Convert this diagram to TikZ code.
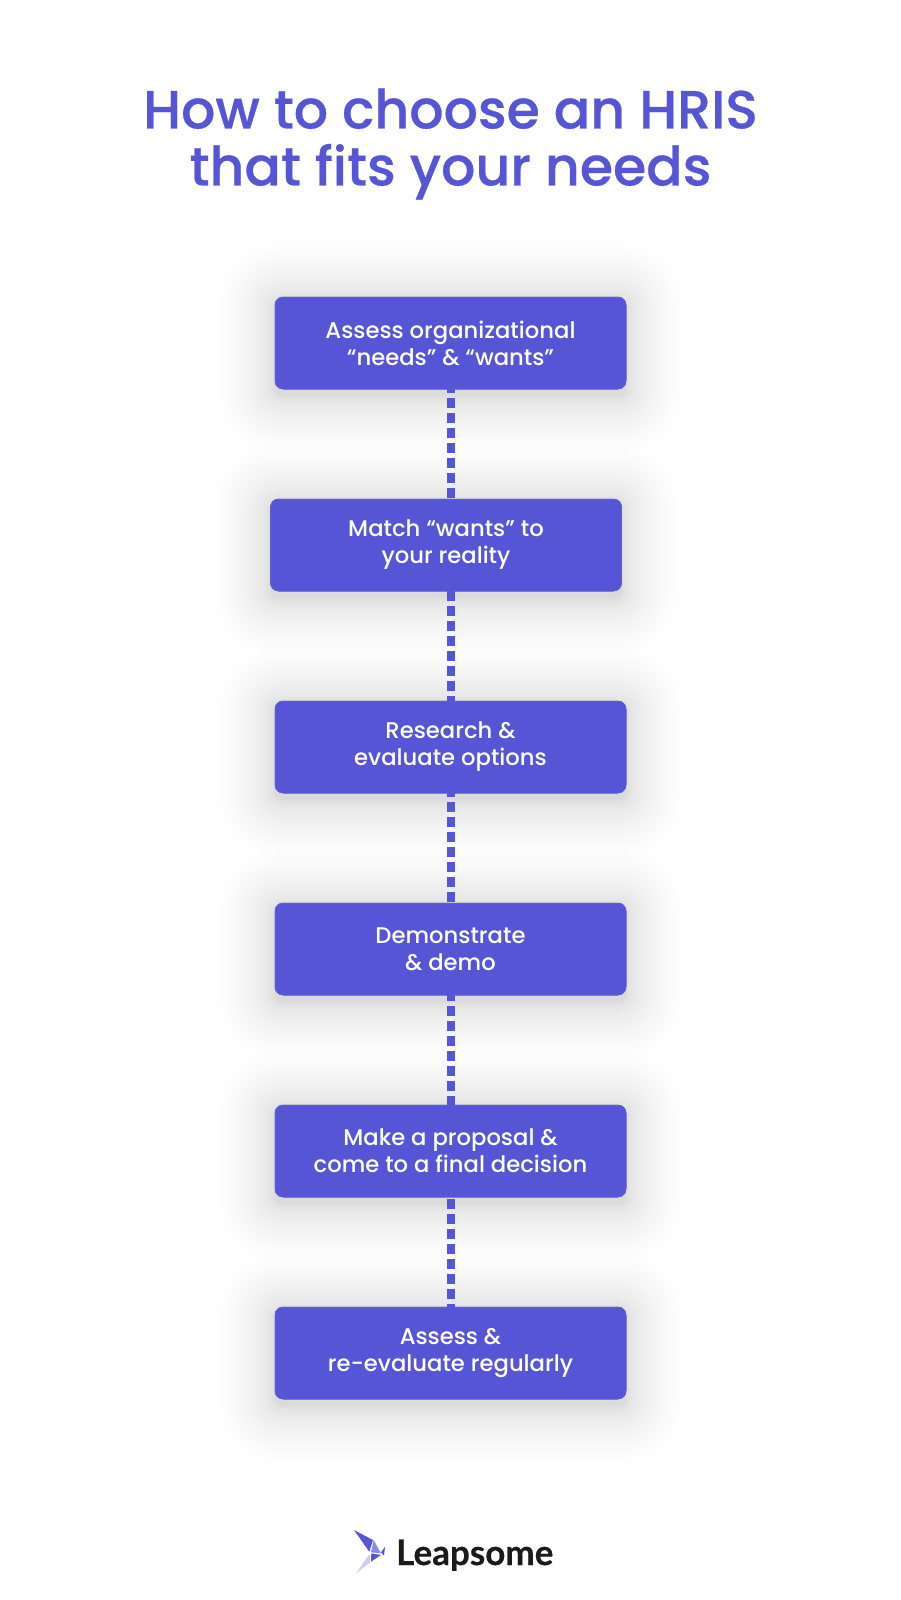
\documentclass[tikz,border=0pt]{standalone}
\usepackage{fontspec}
\setmainfont{Poppins}[UprightFont=* Medium,BoldFont=* SemiBold]
\newfontfamily\titlefont{Poppins Medium}[FakeBold=0.5]
\newfontfamily\logofont{Lato}[FakeBold=0.4]
\usetikzlibrary{calc,positioning}
\definecolor{brand}{RGB}{85,85,213}
\definecolor{brandedge}{RGB}{100,100,218}
\definecolor{brandmid}{RGB}{140,140,232}
\definecolor{brandpale}{RGB}{203,203,246}
\definecolor{ink}{RGB}{26,26,28}
\tikzset{
  x=1pt,y=1pt,
  stepbox/.style={rectangle,rounded corners=8pt,fill=brand,draw=brandedge,line width=0.5pt,
    minimum width=351pt,minimum height=92pt,inner sep=0pt,align=center,text=white,
    font=\fontsize{22.7}{27}\selectfont},
  dashlink/.style={draw=brand,line width=8pt,dash pattern=on 10pt off 5pt},
}
\newcommand{\softshadow}[1]{%
  \foreach \i in {1,...,36}{
    \pgfmathsetmacro{\r}{58*(\i/36)^2}
    \fill[black,opacity=0.0056,rounded corners=\r pt+8pt]
      ($(#1.south west)+(-\r pt,-\r pt-7pt)$) rectangle ($(#1.north east)+(\r pt,\r pt-3pt)$);
  }}
\begin{document}
\begin{tikzpicture}
\useasboundingbox (0,0) rectangle (900,-1600);
\fill[white] (0,0) rectangle (900,-1600);
\node[text=brand,align=center,font=\titlefont\fontsize{53.8}{57}\selectfont] (title) at (450.5,-144) {How to choose an HRIS\\that fits your needs};
\path node[stepbox] (s1) at (450.5,-343) {}
      node[stepbox] (s2) at (446,-545) {}
      node[stepbox] (s3) at (450.5,-747) {}
      node[stepbox] (s4) at (450.5,-949) {}
      node[stepbox] (s5) at (450.5,-1151) {}
      node[stepbox] (s6) at (450.5,-1353) {};
\foreach \n in {s1,s2,s3,s4,s5,s6}{\softshadow{\n}}
\draw[dashlink,dash phase=6.3pt] (s1.south) -- (s1.south |- s2.north);
\draw[dashlink] (s3.north |- s2.south) -- (s3.north);
\draw[dashlink,dash phase=6.3pt] (s3.south) -- (s4.north);
\draw[dashlink,dash phase=4pt] (s4.south) -- (s5.north);
\draw[dashlink,dash phase=13.5pt] (s5.south) -- (s6.north);
\path node[stepbox] at (s1) {Assess organizational\\“needs” \& “wants”}
      node[stepbox] at (s2) {Match “wants” to\\your reality}
      node[stepbox] at (s3) {Research \&\\evaluate options}
      node[stepbox] at (s4) {Demonstrate\\\& demo}
      node[stepbox] at (s5) {Make a proposal \&\\come to a final decision}
      node[stepbox] at (s6) {Assess \&\\re-evaluate regularly};
% logo mark
\fill[brand] (354,-1530) -- (373,-1540) -- (369.3,-1551.7) -- cycle;
\fill[brandmid] (373.7,-1540) -- (381,-1553.3) -- (371,-1552.3) -- cycle;
\fill[brand] (381,-1552.3) -- (385,-1546.7) -- (384,-1555.7) -- cycle;
\fill[brand] (371.3,-1553.3) -- (381,-1555) -- (371,-1561.7) -- cycle;
\fill[brandpale] (369.7,-1553.7) -- (370,-1562.3) -- (356,-1573.3) -- cycle;
\node[anchor=base west,inner sep=0pt,text=ink,font=\logofont\bfseries\fontsize{35}{35}\selectfont] (logo) at (396,-1565) {Leapsome};
\end{tikzpicture}
\end{document}
